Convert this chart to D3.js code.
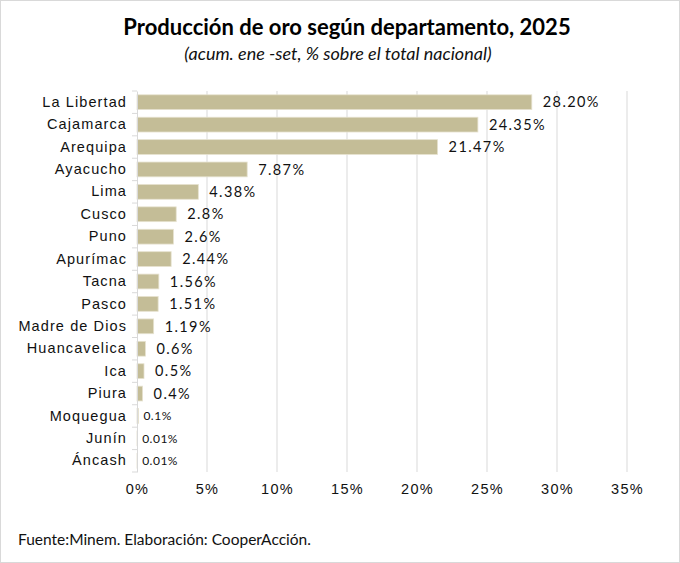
<!DOCTYPE html>
<html>
<head>
<meta charset="utf-8">
<script src="https://cdn.jsdelivr.net/npm/d3@7"></script>
<style>
  body { margin: 0; background: #fff; }
  svg { display: block; font-family: Lato, "Open Sans", sans-serif; }
</style>
</head>
<body>
<div id="chart"></div>
<script>
const departments = ['La Libertad', 'Cajamarca', 'Arequipa', 'Ayacucho', 'Lima', 'Cusco', 'Puno',
  'Apurímac', 'Tacna', 'Pasco', 'Madre de Dios', 'Huancavelica', 'Ica', 'Piura', 'Moquegua', 'Junín', 'Áncash'];
const shares = [28.20, 24.35, 21.47, 7.87, 4.38, 2.8, 2.6, 2.44, 1.56, 1.51, 1.19, 0.6, 0.5, 0.4, 0.1, 0.01, 0.01];
const shareLabels = ['28.20%', '24.35%', '21.47%', '7.87%', '4.38%', '2.8%', '2.6%', '2.44%', '1.56%',
  '1.51%', '1.19%', '0.6%', '0.5%', '0.4%', '0.1%', '0.01%', '0.01%'];
const xTicks = [0, 5, 10, 15, 20, 25, 30, 35];

const width = 680;
const height = 563;
const margin = { top: 91, right: 53, bottom: 91, left: 137 };

const svg = d3.select('#chart')
  .append('svg')
  .attr('width', width)
  .attr('height', height);

svg.append('rect')
  .attr('x', 0.5).attr('y', 0.5)
  .attr('width', width - 1).attr('height', height - 1)
  .attr('fill', '#fff')
  .attr('stroke', '#d9d9d9');

const x = d3.scaleLinear()
  .domain([0, 35])
  .range([margin.left, width - margin.right]);

const y = d3.scaleBand()
  .domain(departments)
  .range([margin.top, height - margin.bottom])
  .paddingInner(0.34)
  .paddingOuter(0.17);

// gridlines
svg.append('g')
  .selectAll('line')
  .data(xTicks.slice(1))
  .join('line')
    .attr('x1', d => x(d)).attr('x2', d => x(d))
    .attr('y1', margin.top).attr('y2', height - margin.bottom)
    .attr('stroke', '#d9d9d9')
    .attr('stroke-width', 1);

// bars
svg.append('g')
  .selectAll('rect')
  .data(departments)
  .join('rect')
    .attr('x', x(0))
    .attr('y', d => y(d))
    .attr('width', (d, i) => x(shares[i]) - x(0))
    .attr('height', y.bandwidth())
    .attr('fill', '#c4bd97')
    .attr('stroke', '#e6e2cf')
    .attr('stroke-width', 0.8);

// value labels
svg.append('g')
  .selectAll('text')
  .data(departments)
  .join('text')
    .attr('x', (d, i) => x(shares[i]) + (shares[i] < 0.2 ? 5 : 11))
    .attr('y', d => y(d) + y.bandwidth() / 2)
    .attr('dy', '0.36em')
    .attr('font-size', (d, i) => shares[i] < 0.2 ? '12px' : '14.5px')
    .attr('letter-spacing', (d, i) => shares[i] < 0.2 ? '0.5px' : '1.4px')
    .attr('fill', '#111')
    .text((d, i) => shareLabels[i]);

// y axis
const yAxis = svg.append('g')
  .attr('transform', `translate(${x(0)},0)`)
  .call(d3.axisLeft(y).tickSize(0).tickPadding(10));
yAxis.select('.domain').attr('stroke', '#d9d9d9');
yAxis.selectAll('text')
  .attr('font-size', '14.5px')
  .attr('letter-spacing', '1.1px')
  .attr('fill', '#111');
// tick marks between categories
const step = y.step();
yAxis.selectAll('.cat-tick')
  .data(d3.range(departments.length + 1))
  .join('line')
    .attr('class', 'cat-tick')
    .attr('x1', -5).attr('x2', 0)
    .attr('y1', i => margin.top + i * step)
    .attr('y2', i => margin.top + i * step)
    .attr('stroke', '#d9d9d9');

// x axis
const xAxis = svg.append('g')
  .attr('transform', `translate(0,${height - margin.bottom})`)
  .call(d3.axisBottom(x).tickValues(xTicks).tickFormat(d => d + '%').tickSize(0).tickPadding(12));
xAxis.select('.domain').remove();
xAxis.selectAll('text')
  .attr('font-size', '14.5px')
  .attr('letter-spacing', '1.3px')
  .attr('fill', '#111');

// titles
svg.append('text')
  .attr('x', 347).attr('y', 35)
  .attr('text-anchor', 'middle')
  .attr('font-size', '22px')
  .attr('font-weight', 'bold')
  .attr('fill', '#000')
  .text('Producción de oro según departamento, 2025');

svg.append('text')
  .attr('x', 338).attr('y', 60)
  .attr('text-anchor', 'middle')
  .attr('font-size', '18px')
  .attr('font-style', 'italic')
  .attr('fill', '#111')
  .text('(acum. ene -set, % sobre el total nacional)');

svg.append('text')
  .attr('x', 18).attr('y', 545)
  .attr('font-size', '15.5px')
  .attr('fill', '#111')
  .text('Fuente:Minem. Elaboración: CooperAcción.');
</script>
</body>
</html>
